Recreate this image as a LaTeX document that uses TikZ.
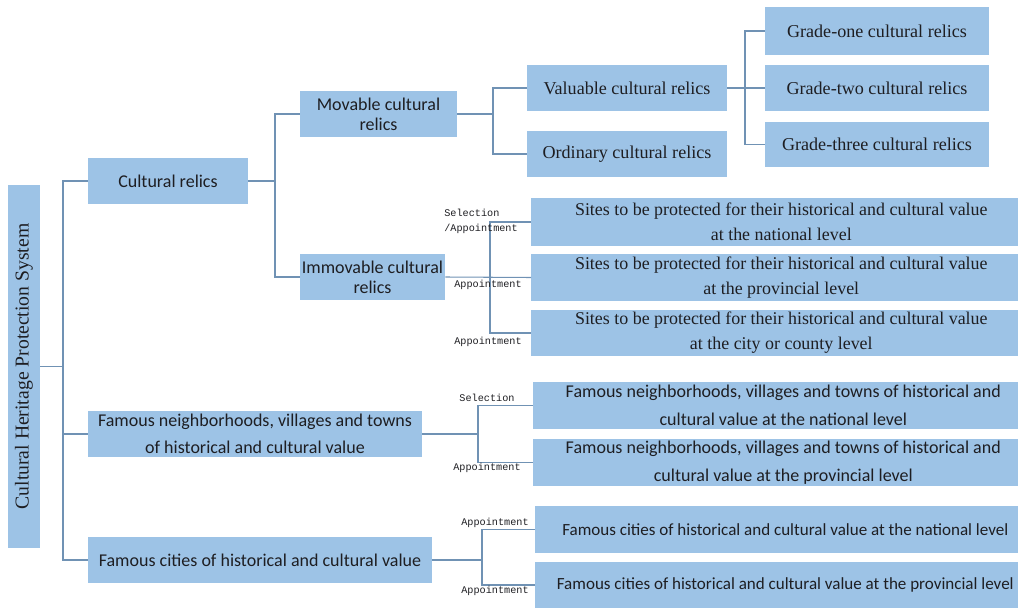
\documentclass[tikz,border=0pt]{standalone}
\usepackage{fontspec}
\usepackage{graphicx}
\setmainfont{Liberation Serif}
\setsansfont{Carlito}
\setmonofont{Liberation Mono}
\definecolor{boxblue}{RGB}{157,195,230}
\definecolor{branchblue}{RGB}{112,146,180}
\definecolor{inkgray}{RGB}{30,30,34}

\begin{document}
\begin{tikzpicture}[
  x=0.02cm, y=-0.02cm,
  branch/.style={draw=branchblue, line width=0.6pt},
  box/.style={fill=boxblue, text=inkgray, inner sep=1pt, align=center, minimum height=0.92cm},
  sansbox/.style={box, font=\sffamily\fontsize{10.25}{15.5}\selectfont},
  tightbox/.style={box, font=\sffamily\fontsize{10.25}{11.5}\selectfont},
  serifbox/.style={box, font=\fontsize{10.3}{14}\selectfont},
  widebox/.style={anchor=west, minimum width=10cm},
  tag/.style={inner sep=0pt, text=inkgray, font=\ttfamily\fontsize{5.8}{8.5}\selectfont}
]

%--------------------------------------------------------------
% Cornice della pagina
%--------------------------------------------------------------
\useasboundingbox (0,0) rectangle (1018,608);
\clip (0,0) rectangle (1018,608);

%--------------------------------------------------------------
% Radice e primo livello
%--------------------------------------------------------------
\node[box, minimum width=0.64cm, minimum height=7.26cm, font=\fontsize{11.2}{12}\selectfont]
  (root) at (24,366.5) {\rotatebox{90}{Cultural Heritage Protection System}};
\node[sansbox, minimum width=3.2cm] (relics) at (168,181) {Cultural relics};
\node[sansbox, minimum width=6.68cm] (neigh) at (255,434) {Famous neighborhoods, villages and towns\\of historical and cultural value};
\node[sansbox, minimum width=6.88cm] (cities) at (260,560) {Famous cities of historical and cultural value};

\coordinate (tr0) at (63,366.5);
\draw[branch] (root.east) -- (tr0);
\draw[branch] (tr0) |- (relics.west);
\draw[branch] (tr0) |- (neigh.west);
\draw[branch] (tr0) |- (cities.west);

%--------------------------------------------------------------
% Beni mobili e immobili
%--------------------------------------------------------------
\node[tightbox, minimum width=3.14cm] (movable) at (378.5,114) {Movable cultural\\relics};
\node[tightbox, minimum width=2.9cm] (immovable) at (372.5,277) {Immovable cultural\\relics};

\coordinate (tr1) at (275,181);
\draw[branch] (relics.east) -- (tr1);
\draw[branch] (tr1) |- (movable.west);
\draw[branch] (tr1) |- (immovable.west);

%--------------------------------------------------------------
% Beni mobili: preziosi / ordinari e gradi
%--------------------------------------------------------------
\node[serifbox, minimum width=4cm] (valuable) at (627,88) {Valuable cultural relics};
\node[serifbox, minimum width=4cm] (ordinary) at (627,154) {Ordinary cultural relics};
\node[serifbox, minimum width=4.48cm, minimum height=0.96cm] (grade1) at (877,31) {Grade-one cultural relics};
\node[serifbox, minimum width=4.48cm] (grade2) at (877,88) {Grade-two cultural relics};
\node[serifbox, minimum width=4.48cm] (grade3) at (877,144.5) {Grade-three cultural relics};

\coordinate (tr2) at (493,114);
\draw[branch] (movable.east) -- (tr2);
\draw[branch] (tr2) |- (valuable.west);
\draw[branch] (tr2) |- (ordinary.west);

\coordinate (tr3) at (745,88);
\draw[branch] (valuable.east) -- (tr3);
\draw[branch] (tr3) |- (grade1.west);
\draw[branch] (tr3) |- (grade2.west);
\draw[branch] (tr3) |- (grade3.west);

%--------------------------------------------------------------
% Beni immobili: siti protetti
%--------------------------------------------------------------
\node[serifbox, widebox, minimum height=0.96cm, font=\fontsize{10.2}{14.2}\selectfont] (sites1) at (531,222) {Sites to be protected for their historical and cultural value\\at the national level};
\node[serifbox, widebox, minimum height=0.94cm, font=\fontsize{10.2}{14.2}\selectfont] (sites2) at (531,277.5) {Sites to be protected for their historical and cultural value\\at the provincial level};
\node[serifbox, widebox, font=\fontsize{10.2}{14.2}\selectfont] (sites3) at (531,333) {Sites to be protected for their historical and cultural value\\at the city or county level};

\coordinate (tr4) at (490,277.5);
\draw[branch] (immovable.east) -- (sites2.west);
\draw[branch] (tr4) |- (sites1.west);
\draw[branch] (tr4) |- (sites3.west);
\node[tag, align=left, anchor=west] (tag1) at (444,221.5) {Selection\\/Appointment};
\node[tag] (tag2) at (488,285) {Appointment};
\node[tag] (tag3) at (488,342) {Appointment};

%--------------------------------------------------------------
% Quartieri, villaggi e citta storiche
%--------------------------------------------------------------
\node[sansbox, widebox, minimum height=0.94cm, font=\sffamily\fontsize{10.25}{16}\selectfont] (nnat) at (533,405.5) {Famous neighborhoods, villages and towns of historical and\\cultural value at the national level};
\node[sansbox, widebox, minimum height=0.94cm, font=\sffamily\fontsize{10.25}{16}\selectfont] (nprov) at (533,462.5) {Famous neighborhoods, villages and towns of historical and\\cultural value at the provincial level};
\node[sansbox, widebox, minimum height=0.94cm, font=\sffamily\fontsize{9.7}{15}\selectfont] (cnat) at (535,529.5) {Famous cities of historical and cultural value at the national level};
\node[sansbox, widebox, minimum height=0.94cm, font=\sffamily\fontsize{9.7}{15}\selectfont] (cprov) at (535,585) {Famous cities of historical and cultural value at the provincial level};

\coordinate (tr5) at (478,434);
\draw[branch] (neigh.east) -- (tr5);
\draw[branch] (tr5) |- (nnat.west);
\draw[branch] (tr5) |- (nprov.west);
\node[tag] (tag4) at (487,398) {Selection};
\node[tag] (tag5) at (487,468) {Appointment};

\coordinate (tr6) at (482,560);
\draw[branch] (cities.east) -- (tr6);
\draw[branch] (tr6) |- (cnat.west);
\draw[branch] (tr6) |- (cprov.west);
\node[tag] (tag6) at (495,523) {Appointment};
\node[tag] (tag7) at (495,591) {Appointment};

\end{tikzpicture}
\end{document}
